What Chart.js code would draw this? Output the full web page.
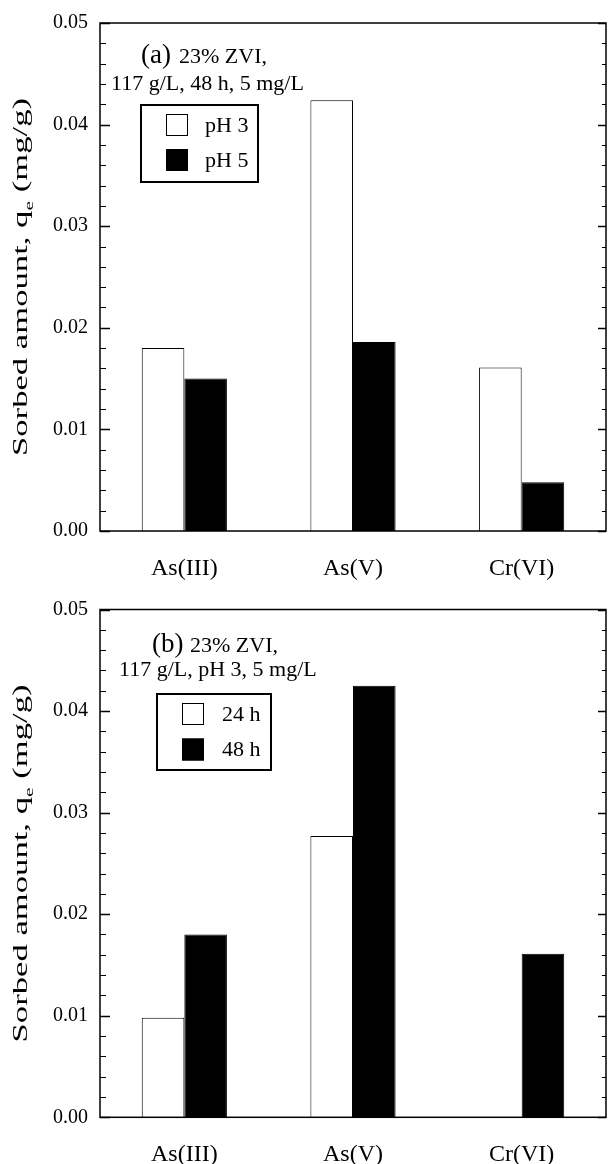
<!DOCTYPE html>
<html>
<head>
<meta charset="utf-8">
<script src="https://cdn.jsdelivr.net/npm/chart.js@4/dist/chart.umd.min.js"></script>
<style>
  html, body { margin: 0; padding: 0; background: #fff; }
  #wrap { position: relative; width: 608px; height: 1164px; }
  canvas { position: absolute; left: 0; }
</style>
</head>
<body>
<div id="wrap">
  <canvas id="panelA" width="608" height="582" style="top:0px"></canvas>
  <canvas id="panelB" width="608" height="582" style="top:582px"></canvas>
</div>
<script>
// ---- data ----
const categories = ['As(III)', 'As(V)', 'Cr(VI)'];

// (a) effect of pH, 48 h contact
const phLabels = ['pH 3', 'pH 5'];
const ph3Values = [0.0180, 0.0424, 0.0161];
const ph5Values = [0.0150, 0.0186, 0.0048];

// (b) effect of contact time, pH 3
const timeLabels = ['24 h', '48 h'];
const h24Values = [0.0098, 0.0277, 0];
const h48Values = [0.0180, 0.0425, 0.0161];

// y axis range and tick spacing
const yMin = 0;
const yMax = 0.05;
const yMajorStep = 0.01;
const yMinorCount = 5;   // minor divisions per major interval

const yTitleMain = 'Sorbed amount, q';
const yTitleSub = 'e';
const yTitleUnit = ' (mg/g)';

const panelATag = '(a)';
const panelALine1 = '23% ZVI,';
const panelALine2 = '117 g/L, 48 h, 5 mg/L';
const panelBTag = '(b)';
const panelBLine1 = '23% ZVI,';
const panelBLine2 = '117 g/L, pH 3, 5 mg/L';

// ---- drawing ----
const SERIF = "'Liberation Serif', 'Times New Roman', serif";

// frame around the plot plus inward major/minor ticks on both y sides
const framePlugin = {
  id: 'frameTicks',
  afterDatasetsDraw(chart) {
    const { ctx, chartArea: a, scales: { y } } = chart;
    ctx.save();
    ctx.strokeStyle = '#000';
    const nMinor = Math.round((yMax - yMin) / yMajorStep) * yMinorCount;
    for (let i = 0; i <= nMinor; i++) {
      const v = yMin + (yMax - yMin) * i / nMinor;
      const py = Math.round(y.getPixelForValue(v)) + 0.5;
      const major = i % yMinorCount === 0;
      ctx.lineWidth = major ? 1.5 : 1;
      ctx.beginPath();
      ctx.moveTo(a.left, py);
      ctx.lineTo(a.left + (major ? 10 : 6), py);
      ctx.moveTo(a.right, py);
      ctx.lineTo(a.right - (major ? 8 : 4), py);
      ctx.stroke();
    }
    ctx.lineWidth = 1.5;
    ctx.strokeRect(a.left, a.top, a.right - a.left, a.bottom - a.top);
    ctx.restore();
  }
};

// rotated y-axis title with subscript, elongated along its reading direction
const yTitlePlugin = {
  id: 'yTitle',
  afterDraw(chart) {
    const { ctx, chartArea: a } = chart;
    const size = 24, subSize = 15, length = 358;
    ctx.save();
    ctx.fillStyle = '#000';
    ctx.font = size + 'px ' + SERIF;
    const w1 = ctx.measureText(yTitleMain).width;
    const w3 = ctx.measureText(yTitleUnit).width;
    ctx.font = subSize + 'px ' + SERIF;
    const w2 = ctx.measureText(yTitleSub).width;
    const total = w1 + w2 + w3;
    const k = length / total;
    ctx.translate(27, (a.top + a.bottom) / 2);
    ctx.rotate(-Math.PI / 2);
    ctx.scale(k, 0.9);
    ctx.textBaseline = 'alphabetic';
    ctx.textAlign = 'left';
    let x = -total / 2;
    ctx.font = size + 'px ' + SERIF;
    ctx.fillText(yTitleMain, x, 0);
    x += w1;
    ctx.font = subSize + 'px ' + SERIF;
    ctx.fillText(yTitleSub, x, 7);
    x += w2;
    ctx.font = size + 'px ' + SERIF;
    ctx.fillText(yTitleUnit, x, 0);
    ctx.restore();
  }
};

// panel caption and boxed legend inside the plot
const notePlugin = {
  id: 'panelNote',
  afterDraw(chart, args, opts) {
    const { ctx, chartArea: a } = chart;
    ctx.save();
    ctx.fillStyle = '#000';
    ctx.textAlign = 'left';
    ctx.textBaseline = 'alphabetic';
    ctx.font = '27px ' + SERIF;
    ctx.fillText(opts.tag, opts.tagX, a.top + opts.line1Dy);
    ctx.font = '22px ' + SERIF;
    ctx.fillText(opts.line1, opts.line1X, a.top + opts.line1Dy);
    ctx.fillText(opts.line2, opts.line2X, a.top + opts.line2Dy);

    // legend box
    const L = opts.legend;
    ctx.lineWidth = 2;
    ctx.strokeStyle = '#000';
    ctx.strokeRect(L.x, a.top + L.dy, L.w, L.h);
    chart.data.datasets.forEach((ds, i) => {
      const cy = a.top + L.rowDy[i];
      const s = L.sq;
      ctx.fillStyle = ds.backgroundColor;
      ctx.fillRect(L.sqX, cy - s / 2, s, s);
      ctx.lineWidth = 1;
      ctx.strokeStyle = '#000';
      ctx.strokeRect(L.sqX + 0.5, cy - s / 2 + 0.5, s - 1, s - 1);
      ctx.fillStyle = '#000';
      ctx.font = '22px ' + SERIF;
      ctx.textBaseline = 'middle';
      ctx.fillText(ds.label, L.textX, cy + 1);
    });
    ctx.restore();
  }
};

function makePanel(id, labels, seriesA, seriesB, topPad, xAxisHeight, note) {
  return new Chart(document.getElementById(id), {
    type: 'bar',
    data: {
      labels: categories,
      datasets: [
        { label: labels[0], data: seriesA, backgroundColor: '#ffffff', borderColor: '#000000', borderWidth: 1 },
        { label: labels[1], data: seriesB, backgroundColor: '#000000', borderColor: '#000000', borderWidth: 1 }
      ]
    },
    options: {
      responsive: false,
      animation: false,
      devicePixelRatio: 1,
      categoryPercentage: 0.505,
      barPercentage: 1.0,
      layout: { padding: { top: topPad, right: 2, left: 0, bottom: 0 } },
      plugins: {
        legend: { display: false },
        tooltip: { enabled: false },
        panelNote: note
      },
      scales: {
        x: {
          type: 'category',
          grid: { display: false },
          border: { display: false },
          ticks: { color: '#000', font: { family: SERIF, size: 24 }, padding: 15, maxRotation: 0 },
          afterFit(s) { s.height = xAxisHeight; }
        },
        y: {
          min: yMin,
          max: yMax,
          grid: { display: false },
          border: { display: false },
          ticks: {
            stepSize: yMajorStep,
            color: '#000',
            font: { family: SERIF, size: 20 },
            padding: 4,
            callback: v => Number(v).toFixed(2)
          },
          afterFit(s) { s.width = 100; }
        }
      }
    },
    plugins: [framePlugin, yTitlePlugin, notePlugin]
  });
}

makePanel('panelA', phLabels, ph3Values, ph5Values, 23, 51, {
  tag: panelATag, line1: panelALine1, line2: panelALine2,
  tagX: 141, line1X: 179, line2X: 111, line1Dy: 40, line2Dy: 67,
  legend: { x: 141, dy: 82, w: 117, h: 77, sqX: 166, sq: 22, rowDy: [102, 137], textX: 205 }
});

makePanel('panelB', timeLabels, h24Values, h48Values, 27.5, 46.7, {
  tag: panelBTag, line1: panelBLine1, line2: panelBLine2,
  tagX: 152, line1X: 190, line2X: 119, line1Dy: 42, line2Dy: 66.5,
  legend: { x: 157, dy: 84.5, w: 114, h: 76, sqX: 182, sq: 22, rowDy: [104.5, 140], textX: 222 }
});
</script>
</body>
</html>
